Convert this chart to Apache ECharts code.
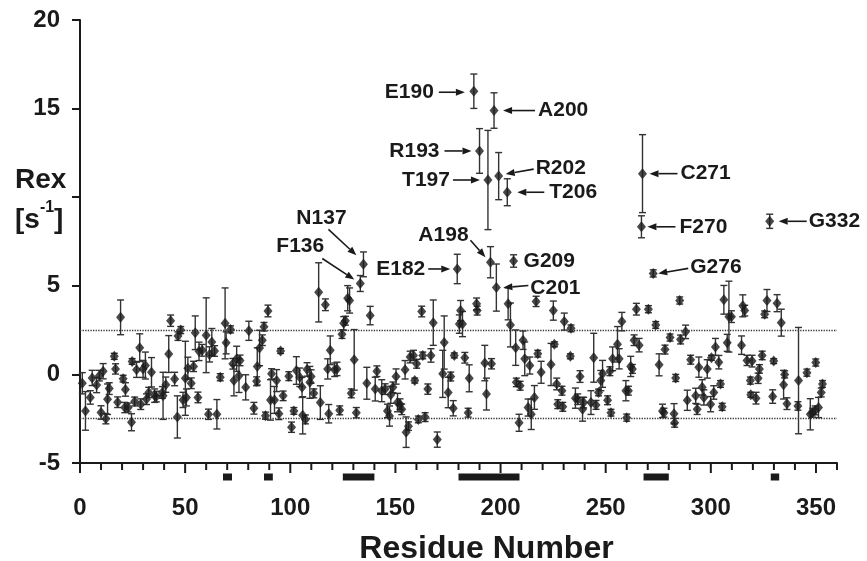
<!DOCTYPE html>
<html>
<head>
<meta charset="utf-8">
<script src="https://cdn.jsdelivr.net/npm/echarts@6.0.0/dist/echarts.min.js"></script>
<style>
html, body { margin: 0; background: #fff; }
#chart { width: 867px; height: 561px; }
</style>
</head>
<body>
<div id="chart"></div>
<script>
// residue position, Rex value and error (half height of the bar)
const residue = [
    1.1, 2.6, 4.9, 5.8, 7.9, 9.2, 10.0, 11.0, 12.3, 13.1,
    13.9, 16.3, 16.9, 17.9, 19.3, 20.5, 21.3, 21.6, 22.9, 24.5,
    24.8, 26.0, 26.9, 28.4, 28.9, 30.0, 31.1, 31.6, 32.7, 34.0,
    35.5, 36.3, 39.2, 39.5, 40.8, 42.2, 43.1, 45.0, 46.3, 46.6,
    47.9, 49.0, 50.1, 50.6, 51.3, 52.9, 54.0, 54.8, 56.1, 56.6,
    58.1, 60.0, 61.1, 61.6, 62.7, 64.0, 65.1, 66.7, 69.0, 69.5,
    71.6, 72.7, 73.2, 74.5, 75.6, 76.1, 78.8, 80.3, 82.7, 84.0,
    84.3, 85.4, 86.7, 87.5, 88.2, 89.4, 90.6, 91.1, 92.5, 93.5,
    94.6, 95.4, 96.6, 99.3, 100.6, 101.7, 102.9, 104.5, 105.6, 105.9,
    107.2, 108.0, 109.3, 109.9, 111.2, 113.5, 114.3, 116.7, 117.8, 118.3,
    119.0, 121.1, 122.2, 123.5, 124.6, 125.4, 126.2, 127.3, 128.2, 129.0,
    130.4, 131.4, 133.3, 134.8, 136.4, 138.0, 140.4, 141.2, 143.5, 145.1,
    146.2, 147.2, 147.8, 148.8, 150.3, 151.0, 152.2, 153.0, 154.6, 155.1,
    156.2, 157.0, 158.6, 159.2, 160.1, 160.9, 162.5, 163.0, 164.1, 165.4,
    166.9, 168.0, 169.9, 172.5, 173.2, 175.1, 176.3, 177.5, 178.0, 179.4,
    180.4, 181.0, 181.9, 183.0, 184.6, 185.1, 187.3, 188.6, 188.9, 190.0,
    192.5, 193.3, 194.0, 195.2, 195.7, 196.9, 198.0, 199.1, 203.2, 203.6,
    204.7, 206.2, 207.2, 207.5, 208.8, 209.3, 210.7, 211.5, 213.1, 213.9,
    214.6, 216.1, 216.9, 217.7, 219.3, 224.0, 225.1, 225.6, 226.7, 227.2,
    229.2, 229.6, 230.3, 233.2, 233.5, 235.6, 236.7, 237.8, 239.0, 239.5,
    243.0, 244.3, 245.4, 246.6, 247.7, 248.5, 250.9, 252.0, 252.5, 253.3,
    255.6, 256.4, 257.7, 259.6, 260.0, 260.8, 261.9, 262.7, 263.5, 264.6,
    265.9, 267.0, 267.5, 270.3, 272.6, 273.8, 275.4, 277.0, 277.7, 278.2,
    280.6, 282.5, 282.8, 283.3, 285.2, 285.6, 288.0, 288.8, 290.4, 292.8,
    293.5, 294.3, 295.9, 296.7, 298.3, 299.9, 300.3, 301.4, 302.2, 303.8,
    304.6, 305.4, 306.2, 307.8, 308.6, 309.8, 314.6, 315.2, 316.1, 317.2,
    318.8, 319.0, 319.6, 321.5, 322.5, 323.1, 324.4, 325.6, 326.7, 328.0,
    329.4, 329.9, 331.5, 333.5, 334.6, 335.1, 336.2, 341.4, 341.7, 345.7,
    347.3, 348.4, 349.6, 349.9, 351.2, 352.5, 353.1,
]

const rex = [
    -0.5, -2.06, -1.3, -0.2, -0.6, -0.07, -2.15, 0.18, -2.5, -1.4,
    -0.8, 1.02, 0.31, -1.57, 3.22, -0.24, -1.87, -0.85, -1.87, -2.7,
    0.73, -1.53, 0.26, 1.51, -1.68, 0.31, 0.5, -1.4, -1.02, 0.12,
    -1.2, -1.25, -1.02, -1.21, -0.58, 1.15, 3.03, -0.26, -2.4, 2.16,
    2.5, -1.44, -0.22, -1.3, 0.35, -0.5, 0.45, 2.35, -1.3, 1.3,
    1.36, 2.21, -2.25, 1.13, 1.83, 1.32, -2.25, -0.16, 2.88, 1.78,
    2.54, 0.6, -0.35, 0.88, -0.07, 0.79, -0.73, 2.46, -1.91, -0.39,
    0.45, 1.49, 1.93, 2.69, -2.33, 3.58, -1.44, 0.03, -1.44, -0.35,
    -2.22, 1.32, -1.21, -0.1, -2.98, -2.06, 0.22, -0.16, -0.73, -2.31,
    -2.54, 0.28, -0.45, -0.12, -1.07, 4.63, -1.59, 3.93, 0.31, -2.22,
    1.36, 0.26, 0.31, -2.03, 2.27, 2.88, 3.03, 4.3, 4.17, -1.07,
    0.82, -2.16, 5.13, 6.21, -0.5, 3.32, -0.83, 0.18, -0.92, -0.83,
    -2.06, -2.35, -1.15, -0.73, -0.12, -1.59, -1.68, -1.97, 0.26, -3.26,
    -2.92, 0.98, 1.07, -0.35, 0.6, -2.54, 3.55, 1.07, -2.41, -0.83,
    1.07, 2.92, -3.68, 0.03, 1.8, -1.02, -0.12, -1.91, 1.07, 5.95,
    2.84, 3.6, 2.84, 0.94, -2.16, -0.22, 15.98, 3.98, 3.6, 12.61,
    0.64, -1.11, 10.97, 6.33, 0.6, 14.89, 4.9, 11.19, 10.28, 3.98,
    2.79, 6.4, 1.51, -0.45, -2.73, -0.64, 1.93, 0.88, -1.87, 0.5,
    -2.25, -1.3, 4.12, 1.17, 0.12, 0.56, 3.6, 1.7, -0.54, -1.68,
    -0.92, -1.83, 2.98, 1.02, 2.6, -1.34, -1.4, -0.12, -1.97, -1.59,
    -1.59, 0.94, -1.72, -1.02, -0.35, 0.03, -1.46, 0.18, -2.16, 0.88,
    1.7, 0.88, 2.98, -0.92, -2.44, -0.92, 0.45, 0.31, 1.93, 3.68,
    1.65, 8.33, 11.33, 3.68, 5.7, 2.79, 0.54, -2.06, -2.16, 1.4,
    2.08, -2.22, -2.73, -0.2, 4.17, 1.97, 2.4, -1.46, 0.83, -1.21,
    -1.97, 0.41, -0.73, -1.3, 0.31, -1.68, 0.94, -1.02, 1.55, 0.69,
    -0.54, -1.83, 4.21, 1.78, 3.26, 3.26, 1.65, 3.87, 3.6, 0.79,
    -0.35, -1.15, 0.75, -1.34, -0.22, 0.31, 1.07, 3.39, 4.17, 8.64,
    -1.25, 0.75, 4.02, 2.92, -0.58, 0.0, -1.65, -1.78, -0.35, 0.1,
    -2.25, -2.16, -2.03, 0.67, -1.87, -1.02, -0.54,
]

const rexErr = [
    0.6, 1.09, 0.38, 0.43, 0.43, 0.3, 0.38, 0.43, 0.29, 0.86,
    0.33, 0.17, 0.29, 0.3, 0.98, 0.19, 0.29, 0.38, 0.25, 0.48,
    0.16, 0.25, 0.43, 0.78, 0.3, 0.48, 0.76, 0.3, 0.29, 0.83,
    0.38, 0.3, 0.33, 1.33, 0.43, 1.04, 0.32, 0.38, 1.19, 0.24,
    0.2, 0.43, 2.09, 0.48, 0.62, 0.3, 0.29, 0.95, 0.3, 0.52,
    0.33, 2.11, 0.29, 0.43, 0.76, 0.3, 0.83, 0.2, 2.0, 0.62,
    0.2, 0.3, 0.86, 0.71, 0.95, 0.3, 0.71, 0.54, 0.33, 0.25,
    1.05, 1.0, 0.3, 0.24, 0.2, 0.33, 1.14, 0.29, 0.76, 0.62,
    0.33, 0.14, 0.27, 0.25, 0.29, 0.19, 0.78, 0.52, 0.57, 1.05,
    0.25, 0.38, 0.9, 0.38, 0.25, 1.67, 0.95, 0.33, 0.57, 0.52,
    0.81, 0.38, 0.38, 0.25, 0.24, 0.38, 0.25, 0.71, 0.71, 0.25,
    1.71, 0.29, 0.45, 0.7, 0.9, 0.52, 0.67, 0.3, 0.62, 0.3,
    0.38, 0.57, 0.48, 0.3, 0.43, 0.52, 0.3, 0.3, 0.52, 0.86,
    0.24, 0.33, 0.29, 0.14, 0.25, 0.19, 0.3, 0.19, 0.25, 0.29,
    0.38, 1.28, 0.43, 1.33, 1.5, 0.86, 0.25, 0.43, 0.14, 0.83,
    0.52, 0.57, 0.71, 0.3, 0.25, 0.76, 0.97, 0.33, 0.25, 1.26,
    1.0, 0.9, 2.8, 0.88, 0.29, 1.0, 1.33, 1.33, 0.76, 0.9,
    1.24, 0.35, 1.0, 0.24, 0.48, 0.25, 0.52, 0.95, 0.48, 0.48,
    0.86, 0.67, 0.29, 0.19, 0.62, 1.19, 0.54, 0.14, 0.33, 0.25,
    0.25, 0.25, 0.48, 0.14, 0.19, 0.57, 0.3, 0.33, 0.67, 0.3,
    0.67, 1.38, 0.25, 0.19, 0.57, 0.76, 0.25, 0.25, 0.19, 0.67,
    1.0, 0.57, 0.52, 0.57, 0.2, 0.25, 0.57, 0.25, 0.3, 0.33,
    0.38, 0.62, 2.2, 0.2, 0.2, 0.19, 0.62, 0.38, 0.25, 0.25,
    0.2, 0.57, 0.25, 0.2, 0.2, 0.25, 0.38, 0.57, 0.25, 0.43,
    0.29, 0.57, 0.43, 0.43, 0.52, 0.43, 0.14, 0.38, 0.48, 0.38,
    0.19, 0.2, 0.81, 0.48, 2.0, 0.33, 0.52, 0.62, 0.3, 0.29,
    0.2, 0.14, 0.33, 0.33, 0.29, 0.24, 0.24, 0.19, 0.62, 0.4,
    0.38, 0.14, 0.48, 0.76, 0.81, 0.2, 0.33, 0.24, 3.0, 0.2,
    0.88, 0.25, 0.25, 0.2, 0.57, 0.25, 0.19,
]

// secondary structure segments drawn under the axis
const segStart = [68, 87.5, 125, 180, 268, 328.5]
const segEnd = [72.3, 91.7, 140, 209, 280, 332.5]

const xLabelValues = [0, 50, 100, 150, 200, 250, 300, 350]
const xTickValues = [0, 10, 20, 30, 40, 50, 60, 70, 80, 90, 100, 110, 120, 130, 140, 150, 160, 170, 180,
    190, 200, 210, 220, 230, 240, 250, 260, 270, 280, 290, 300, 310, 320, 330, 340, 350, 360]
const yLabelValues = [-5, 0, 5, 15, 20]
const bandLines = [2.5, -2.5]

// labelled residues
const calloutNames = ['E190', 'A200', 'R193', 'T197', 'R202', 'T206', 'N137', 'F136',
    'E182', 'A198', 'C201', 'G209', 'C271', 'F270', 'G276', 'G332']
const calloutRes = [187.3, 196.9, 190.0, 194.0, 199.1, 203.2, 134.8, 133.3,
    179.4, 195.2, 198.0, 206.2, 267.5, 267.0, 272.6, 328.0]

// pixel offsets from the point: text anchor, arrow tail, arrow head
const calloutLayout = {
    E190: { text: [-40, 1], align: 'right', tail: [-35, 1], head: [-9, 1] },
    A200: { text: [44, 0], align: 'left', tail: [41, 0], head: [9, 0] },
    R193: { text: [-40, 0], align: 'right', tail: [-35, 0], head: [-8, 0] },
    T197: { text: [-38, 0], align: 'right', tail: [-35, 0], head: [-8, 0] },
    R202: { text: [37, -8], align: 'left', tail: [35, -7], head: [7, -2] },
    T206: { text: [42, 0], align: 'left', tail: [37, 0], head: [10, 0] },
    N137: { text: [-42, -46], align: 'center', tail: [-35, -35], head: [-7, -9] },
    F136: { text: [-60, -37], align: 'center', tail: [-38, -25], head: [-6, -4] },
    E182: { text: [-32, 0], align: 'right', tail: [-29, 0], head: [-7, 0] },
    A198: { text: [-47, -27], align: 'center', tail: [-20, -22], head: [-5, -5] },
    C201: { text: [34, 1], align: 'left', tail: [32, -2], head: [7, 0] },
    G209: { text: [10, 0], align: 'left' },
    C271: { text: [38, 0], align: 'left', tail: [35, 0], head: [7, 0] },
    F270: { text: [38, 0], align: 'left', tail: [34, 0], head: [6, 0] },
    G276: { text: [37, -6], align: 'left', tail: [35, -5], head: [5, 0] },
    G332: { text: [39, 0], align: 'left', tail: [37, 0], head: [9, 0] },
}

const FONT = '"Liberation Sans", Arial, Helvetica, sans-serif'
const INK = '#1a1a1a'

const renderErrorBar = function(params, api) {
    const x = api.value(0)
    const y = api.value(1)
    const e = api.value(2)
    const top = api.coord([x, y + e])
    const bot = api.coord([x, y - e])
    const w = 3.5
    const style = { stroke: '#333', lineWidth: 1.4 }
    return {
        type: 'group',
        children: [
            { type: 'line', shape: { x1: top[0], y1: top[1], x2: bot[0], y2: bot[1] }, style: style },
            { type: 'line', shape: { x1: top[0] - w, y1: top[1], x2: top[0] + w, y2: top[1] }, style: style },
            { type: 'line', shape: { x1: bot[0] - w, y1: bot[1], x2: bot[0] + w, y2: bot[1] }, style: style },
        ],
    }
}

const renderSegment = function(params, api) {
    const a = api.coord([api.value(0), -5])
    const b = api.coord([api.value(1), -5])
    return {
        type: 'rect',
        shape: { x: a[0], y: a[1] + 10.5, width: b[0] - a[0], height: 7 },
        style: { fill: INK },
    }
}

// x ticks: long at every labelled value, short in between
const renderXTick = function(params, api) {
    const v = api.value(0)
    const p = api.coord([v, -5])
    const len = xLabelValues.indexOf(v) >= 0 ? 10 : 7
    return {
        type: 'line',
        shape: { x1: p[0], y1: p[1], x2: p[0], y2: p[1] + len },
        style: { stroke: INK, lineWidth: 2 },
    }
}

const renderCallout = function(params, api) {
    const p = api.coord([api.value(0), api.value(1)])
    const name = calloutNames[params.dataIndex]
    const L = calloutLayout[name]
    const children = [{
        type: 'text',
        x: p[0] + L.text[0],
        y: p[1] + L.text[1],
        style: {
            text: name,
            font: 'bold 21px ' + FONT,
            fill: INK,
            align: L.align,
            verticalAlign: 'middle',
        },
    }]
    if (L.tail) {
        const tx = p[0] + L.tail[0]
        const ty = p[1] + L.tail[1]
        const hx = p[0] + L.head[0]
        const hy = p[1] + L.head[1]
        const len = Math.sqrt((hx - tx) * (hx - tx) + (hy - ty) * (hy - ty))
        const ux = (hx - tx) / len
        const uy = (hy - ty) / len
        const al = 9
        const aw = 3.5
        const bx = hx - ux * al
        const by = hy - uy * al
        children.push({
            type: 'line',
            shape: { x1: tx, y1: ty, x2: bx, y2: by },
            style: { stroke: INK, lineWidth: 1.6 },
        })
        children.push({
            type: 'polygon',
            shape: { points: [[hx, hy], [bx - uy * aw, by + ux * aw], [bx + uy * aw, by - ux * aw]] },
            style: { fill: INK },
        })
    }
    return { type: 'group', children: children }
}

const buildOption = function() {
    const points = residue.map((r, i) => [r, rex[i]])
    const bars = residue.map((r, i) => [r, rex[i], rexErr[i]])
    const segs = segStart.map((s, i) => [s, segEnd[i]])
    const ticks = xTickValues.map((v) => [v, -5])
    const callouts = calloutRes.map((r) => {
        const i = residue.indexOf(r)
        return [r, rex[i]]
    })
    const axisLine = { show: true, onZero: false, lineStyle: { color: INK, width: 2 } }

    const option = {
        animation: false,
        backgroundColor: '#fff',
        title: {
            left: 10,
            top: 155,
            text: '{b|Rex}\n{b|[s}{sup|-1}{b|]}',
            textStyle: {
                rich: {
                    b: { fontFamily: FONT, fontWeight: 'bold', fontSize: 28, color: INK, lineHeight: 40 },
                    sup: { fontFamily: FONT, fontWeight: 'bold', fontSize: 16, color: INK, verticalAlign: 'top', lineHeight: 40, padding: [0, 0, 12, 0] },
                },
            },
        },
        grid: { left: 80, right: 30, top: 20, bottom: 98, outerBoundsMode: 'none', containLabel: false },
        xAxis: {
            type: 'value',
            min: 0,
            max: 360,
            interval: 10,
            name: 'Residue Number',
            nameLocation: 'middle',
            nameGap: 70,
            nameTextStyle: {
                fontFamily: FONT, fontWeight: 'bold', fontSize: 32, color: INK,
                padding: [0, 0, 0, 56],
            },
            axisLine: axisLine,
            axisTick: { show: false },
            splitLine: { show: false },
            axisLabel: {
                margin: 33,
                fontFamily: FONT,
                fontWeight: 'bold',
                fontSize: 24,
                color: INK,
                showMaxLabel: false,
                formatter: function(v) {
                    return xLabelValues.indexOf(v) >= 0 ? String(v) : ''
                },
            },
        },
        yAxis: {
            type: 'value',
            min: -5,
            max: 20,
            interval: 5,
            axisLine: axisLine,
            axisTick: { show: true, length: 8, lineStyle: { color: INK, width: 2 } },
            splitLine: { show: false },
            axisLabel: {
                margin: 20,
                fontFamily: FONT,
                fontWeight: 'bold',
                fontSize: 24,
                color: INK,
                formatter: function(v) {
                    return yLabelValues.indexOf(v) >= 0 ? String(v) : ''
                },
            },
        },
        series: [
            {
                type: 'custom',
                name: 'error',
                data: bars,
                renderItem: renderErrorBar,
                silent: true,
                z: 2,
            },
            {
                type: 'scatter',
                name: 'Rex',
                data: points,
                symbol: 'diamond',
                symbolSize: [9, 11],
                itemStyle: { color: INK },
                z: 3,
                markLine: {
                    silent: true,
                    symbol: 'none',
                    label: { show: false },
                    lineStyle: { type: 'dotted', color: '#333', width: 1.3 },
                    data: bandLines.map((v) => ({ yAxis: v })),
                },
            },
            {
                type: 'custom',
                name: 'segments',
                data: segs,
                renderItem: renderSegment,
                silent: true,
            },
            {
                type: 'custom',
                name: 'xticks',
                data: ticks,
                renderItem: renderXTick,
                silent: true,
            },
            {
                type: 'custom',
                name: 'callouts',
                data: callouts,
                renderItem: renderCallout,
                silent: true,
                z: 4,
            },
        ],
    }
    return option
}

const __main = function() {
    const chart = echarts.init(document.getElementById('chart'))
    chart.setOption(buildOption())
}

__main()
</script>
</body>
</html>
